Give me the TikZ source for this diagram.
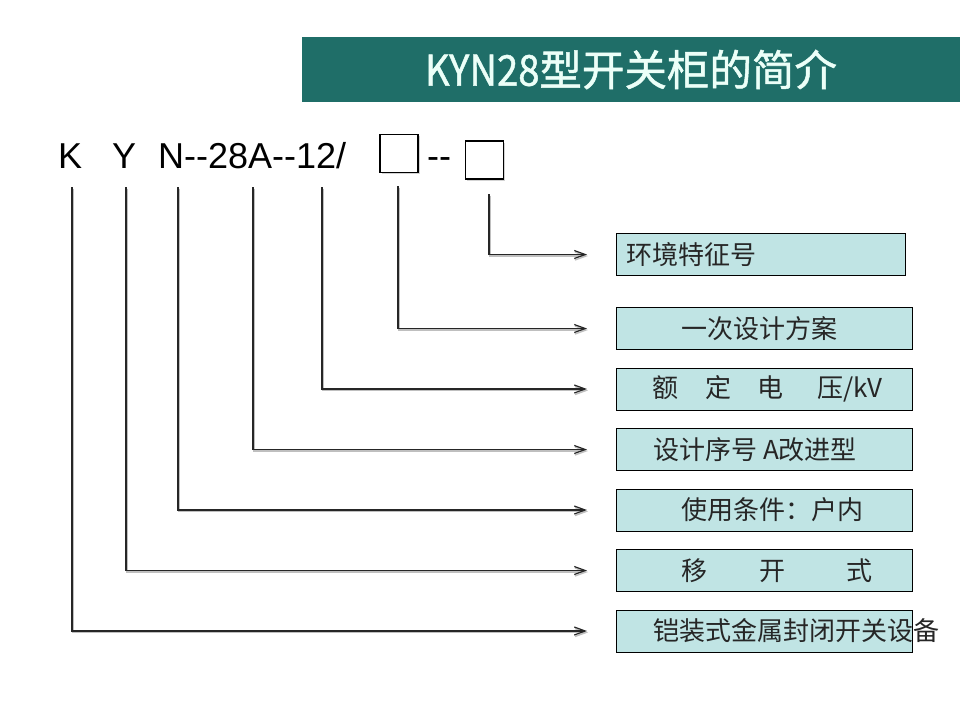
\documentclass[tikz,border=0pt]{standalone}
\usepackage{fontspec}
\setmainfont{Liberation Sans}
\newfontfamily\codefont{Liberation Sans}
\newfontfamily\cjk{Noto Sans CJK SC}
\newfontfamily\cjktitle[FakeBold=1.2]{Noto Sans CJK SC}
\usepackage{tikz}
\usetikzlibrary{arrows.meta, positioning, shadows}
\definecolor{banner}{RGB}{31,110,104}
\definecolor{titletext}{RGB}{236,255,248}
\definecolor{boxfill}{RGB}{192,228,228}

\begin{document}
\begin{tikzpicture}[
  x=1pt, y=-1pt,
  node distance=17.5pt,
  titlebar/.style={rectangle, fill=banner, minimum width=658pt, minimum height=65pt, inner sep=0pt, text=titletext, font=\cjktitle\fontsize{42.5}{46}\selectfont},
  code/.style={inner sep=0pt, anchor=base west, font=\codefont\fontsize{36}{40}\selectfont},
  square/.style={rectangle, draw, line width=1.2pt, fill=white, minimum size=38pt, inner sep=0pt, drop shadow={shadow xshift=1.5pt, shadow yshift=-1.5pt, opacity=0.35}},
  desc/.style={rectangle, draw, line width=1pt, fill=boxfill, minimum width=296pt, minimum height=42pt, inner sep=0pt},
  desctext/.style={anchor=west, inner sep=0pt, text=black!85, font=\cjk\fontsize{26}{30}\selectfont},
  arrow/.style={-{Straight Barb[length=11pt,width=8pt]}, line width=1.2pt, draw=black!85, shorten >=29pt,
    preaction={draw=black!25, line width=1.4pt, transform canvas={xshift=1pt, yshift=-1.5pt}}}
]
  \useasboundingbox (0,0) rectangle (960,720);

  \node[titlebar] (title) at (631,69.5) {\scalebox{0.9}[1]{KYN28}型开关柜的简介};

  \node[code] (cK) at (58,168) {K};
  \node[code] (cY) at (112,168) {Y};
  \node[code] (cN) at (158,168) {N--28A--12/};
  \node[square] (sq1) at (399,153.5) {};
  \node[code] (dash) at (427,168) {--};
  \node[square] (sq2) at (484.5,160) {};

  \node[desc, minimum width=289pt, anchor=north west] (env) at (616,233) {};
  \node[desc, below=31pt of env.south west, anchor=north west] (scheme) {};
  \node[desc, below=of scheme] (volt) {};
  \node[desc, below=of volt] (serial) {};
  \node[desc, below=of serial] (cond) {};
  \node[desc, below=of cond] (mov) {};
  \node[desc, below=of mov] (encl) {};

  \node[desctext] (envT) at ([xshift=10pt]env.west) {环境特征号};
  \node[desctext] (schemeT) at ([xshift=65pt]scheme.west) {一次设计方案};
  \node[desctext] (voltT) at ([xshift=36pt]volt.west) {额\hspace{27pt}定\hspace{26pt}电\hspace{34pt}压/kV};
  \node[desctext] (serialT) at ([xshift=37pt]serial.west) {设计序号 A改进型};
  \node[desctext] (condT) at ([xshift=65pt]cond.west) {使用条件：户内};
  \node[desctext] (movT) at ([xshift=65pt]mov.west) {移\hspace{52pt}开\hspace{61pt}式};
  \node[desctext] (enclT) at ([xshift=37pt]encl.west) {铠装式金属封闭开关设备};

  \coordinate (oK) at (72,187);
  \coordinate (oY) at (126,187);
  \coordinate (oN) at (178,187);
  \coordinate (o28) at (253,187);
  \coordinate (o12) at (322,187);
  \coordinate (oSq1) at (398,186);
  \coordinate (oSq2) at (489,194);

  \draw[arrow] (oSq2) |- (env.west);
  \draw[arrow] (oSq1) |- (scheme.west);
  \draw[arrow] (o12) |- (volt.west);
  \draw[arrow] (o28) |- (serial.west);
  \draw[arrow] (oN) |- (cond.west);
  \draw[arrow] (oY) |- (mov.west);
  \draw[arrow] (oK) |- (encl.west);
\end{tikzpicture}
\end{document}
